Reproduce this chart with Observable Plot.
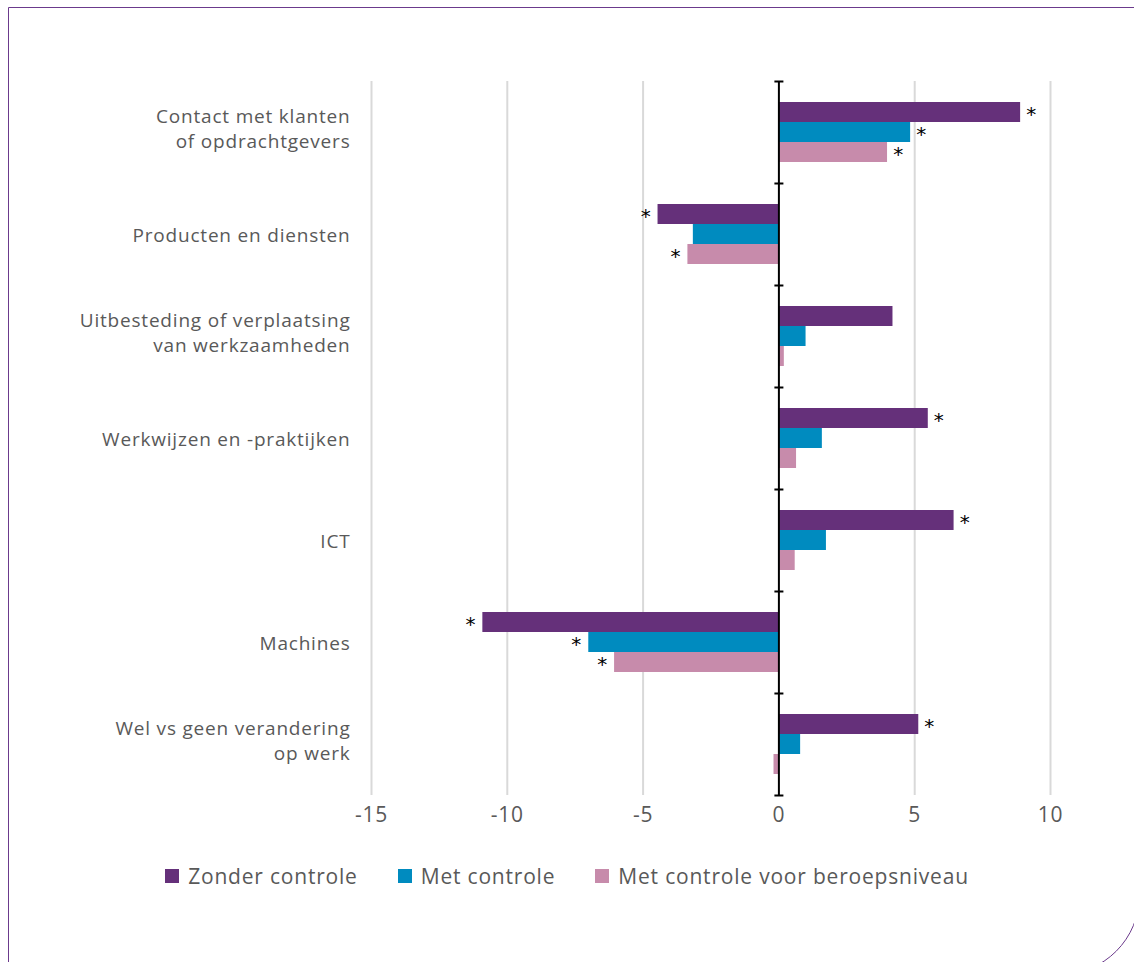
<!DOCTYPE html>
<html>
<head>
<meta charset="utf-8">
<script src="https://cdn.jsdelivr.net/npm/d3@7"></script>
<script src="https://cdn.jsdelivr.net/npm/@observablehq/plot@0.6"></script>
<style>
  html, body { margin: 0; padding: 0; background: #fff; overflow: hidden; }
  body { width: 1134px; height: 962px; position: relative; font-family: "Open Sans", sans-serif; }
  #frame { position: absolute; left: 8px; top: 7px; width: 1130px; height: 966px;
           border: 1.5px solid #6b3a8c; border-bottom-right-radius: 80px; pointer-events: none; }
  #chart { position: absolute; left: 0; top: 0; }
  #chart svg text { letter-spacing: 0.8px; }
  #legend { position: absolute; left: 0; top: 862px; width: 1134px; display: flex; justify-content: center;
            gap: 40px; font-size: 21px; letter-spacing: 0.8px; color: #595959; }
  #legend .item { display: flex; align-items: center; }
  #legend .sw { width: 14px; height: 14px; margin-right: 9px; display: inline-block; }
</style>
</head>
<body>
<div id="chart"></div>
<div id="legend"></div>
<div id="frame"></div>
<script>
const categories = [
  "Contact met klanten\nof opdrachtgevers",
  "Producten en diensten",
  "Uitbesteding of verplaatsing\nvan werkzaamheden",
  "Werkwijzen en -praktijken",
  "ICT",
  "Machines",
  "Wel vs geen verandering\nop werk"
];
const series = ["Zonder controle", "Met controle", "Met controle voor beroepsniveau"];
const colors = ["#65307a", "#008bbf", "#c78bab"];
const zonderControle = [8.9, -4.45, 4.2, 5.5, 6.45, -10.9, 5.15];
const metControle = [4.85, -3.15, 1.0, 1.6, 1.75, -7.0, 0.8];
const metControleBeroep = [4.0, -3.35, 0.2, 0.65, 0.6, -6.05, -0.18];
const sigZonder = [true, true, false, true, true, true, true];
const sigMet = [true, false, false, false, false, true, false];
const sigBeroep = [true, true, false, false, false, true, false];
const xTicks = [-15, -10, -5, 0, 5, 10];
const gridVals = [-15, -10, -5, 5, 10];

const seriesValues = [zonderControle, metControle, metControleBeroep];
const seriesSig = [sigZonder, sigMet, sigBeroep];
const rows = [];
categories.forEach((c, i) => {
  series.forEach((s, j) => {
    rows.push({category: c, series: s, value: seriesValues[j][i], sig: seriesSig[j][i]});
  });
});

const hline = { draw(ctx, size) { ctx.moveTo(-4.5, 0); ctx.lineTo(4.5, 0); } };
const multi = categories.filter(c => c.includes("\n"));
const single = categories.filter(c => !c.includes("\n"));

const chart = Plot.plot({
  width: 1134,
  height: 840,
  marginLeft: 371,
  marginRight: 84,
  marginTop: 81,
  marginBottom: 45,
  style: { fontFamily: "'Open Sans', sans-serif", color: "#595959", background: "transparent" },
  x: { domain: [-15, 10], label: null },
  fy: { domain: categories, padding: 0, label: null, axis: null },
  y: { domain: series, paddingInner: 0, paddingOuter: 0.95, axis: null },
  color: { domain: series, range: colors },
  marks: [
    Plot.ruleX(gridVals, { stroke: "#d9d9d9", strokeWidth: 2 }),
    Plot.barX(rows, { x: "value", fy: "category", y: "series", fill: "series" }),
    Plot.ruleX([0], { stroke: "#000", strokeWidth: 2 }),
    Plot.dot([0], { x: d => d, frameAnchor: "top", symbol: hline, stroke: "#000", strokeWidth: 2, fill: "none" }),
    Plot.dot([{c: categories[categories.length - 1], v: 0}], { x: "v", fy: "c", frameAnchor: "bottom", symbol: hline, stroke: "#000", strokeWidth: 2, fill: "none" }),
    Plot.text(rows.filter(d => d.sig && d.value >= 0), { x: "value", fy: "category", y: "series", text: () => "*", dx: 11, dy: 2, fontSize: 20, fontFamily: "DejaVu Sans", fill: "#000" }),
    Plot.text(rows.filter(d => d.sig && d.value < 0), { x: "value", fy: "category", y: "series", text: () => "*", dx: -12, dy: 2, fontSize: 20, fontFamily: "DejaVu Sans", fill: "#000" }),
    Plot.axisX(xTicks, { tickSize: 0, tickPadding: 12, fontSize: 21, tickFormat: d => String(d), label: null }),
    Plot.text(multi, { fy: d => d, text: d => d, frameAnchor: "left", textAnchor: "end", dx: -21, dy: -5, fontSize: 19, lineHeight: 1.3, fill: "#595959" }),
    Plot.text(single, { fy: d => d, text: d => d, frameAnchor: "left", textAnchor: "end", dx: -21, dy: 1, fontSize: 19, fill: "#595959" })
  ]
});
document.getElementById("chart").appendChild(chart);

const legend = document.getElementById("legend");
series.forEach((s, i) => {
  const item = document.createElement("div");
  item.className = "item";
  const sw = document.createElement("span");
  sw.className = "sw";
  sw.style.background = colors[i];
  item.appendChild(sw);
  item.appendChild(document.createTextNode(s));
  legend.appendChild(item);
});
</script>
</body>
</html>
